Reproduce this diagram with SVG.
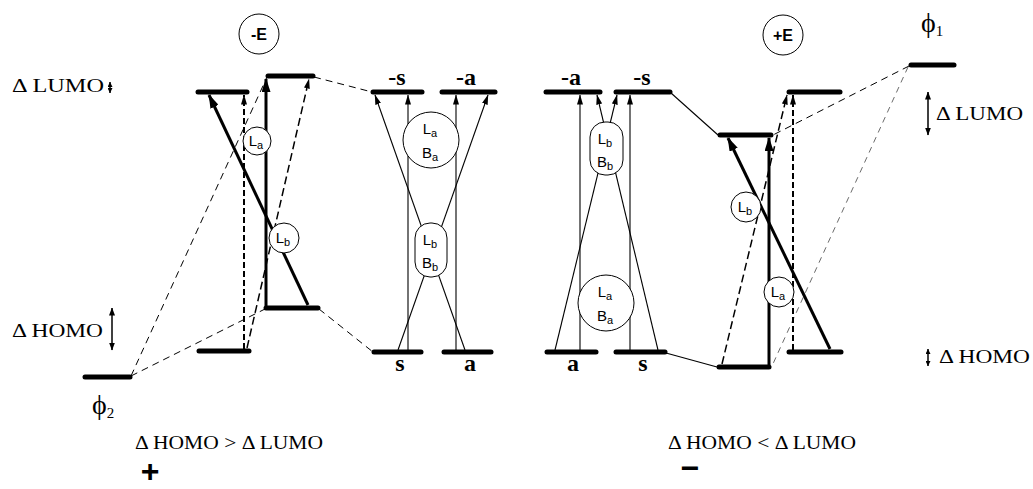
<svg xmlns="http://www.w3.org/2000/svg" width="1033" height="489" viewBox="0 0 1033 489">
<style>
.bar{stroke:#000;stroke-width:5;stroke-linecap:round}
.thick{stroke:#000;stroke-width:3;fill:none}
.thin{stroke:#000;stroke-width:1.1;fill:none}
.dash{stroke:#000;stroke-width:1;stroke-dasharray:7 5;fill:none}
.dashl{stroke:#444;stroke-width:0.8;stroke-dasharray:6 5;fill:none}
.dashm{stroke:#000;stroke-width:1.5;stroke-dasharray:8 4;fill:none}
.dashv{stroke:#000;stroke-width:2;stroke-dasharray:6 3;fill:none}
.lbl{font-family:"Liberation Serif","DejaVu Serif",serif;font-size:19px;fill:#000}
.phi{font-family:"Liberation Serif","DejaVu Serif",serif;font-size:28px;fill:#000}
.sym{font-family:"Liberation Serif",serif;font-weight:bold;font-size:24px;fill:#000;text-anchor:middle}
.cl{font-family:"Liberation Sans",sans-serif;font-size:15px;fill:#000;text-anchor:middle}
.circ{fill:#fff;stroke:#000;stroke-width:1}
.ef{font-family:"Liberation Sans",sans-serif;font-weight:bold;font-size:16px;fill:#000;text-anchor:middle}
</style>
<defs>
<marker id="ahT" markerUnits="userSpaceOnUse" markerWidth="14" markerHeight="9" viewBox="0 0 14 9" refX="13" refY="4.5" orient="auto"><path d="M0,0 L14,4.5 L0,9 z"/></marker>
<marker id="ah" markerUnits="userSpaceOnUse" markerWidth="10" markerHeight="6" viewBox="0 0 10 6" refX="9.5" refY="3" orient="auto"><path d="M0,0 L10,3 L0,6 z"/></marker>
<marker id="dbl" markerUnits="userSpaceOnUse" markerWidth="8" markerHeight="6" viewBox="0 0 8 6" refX="7.5" refY="3" orient="auto-start-reverse"><path d="M0,0 L8,3 L0,6 z"/></marker>
<marker id="dbs" markerUnits="userSpaceOnUse" markerWidth="5" markerHeight="5" viewBox="0 0 5 5" refX="5" refY="2.5" orient="auto-start-reverse"><path d="M0,0 L5,2.5 L0,5 z"/></marker>
</defs>

<g id="connectors">
  <line class="dash" x1="131" y1="376" x2="267" y2="77"/>
  <line class="dash" x1="131" y1="376" x2="265" y2="309"/>
  <line class="dash" x1="314" y1="77" x2="372" y2="92"/>
  <line class="dash" x1="319" y1="309" x2="373" y2="352"/>
  <line class="dashv" x1="244" y1="349" x2="244" y2="95" marker-end="url(#ah)"/>
  <line class="dashm" x1="247" y1="348" x2="309" y2="79" marker-end="url(#ah)"/>
  <line class="thick" x1="308" y1="305" x2="209" y2="95" marker-end="url(#ahT)"/>
  <line class="thick" x1="266" y1="306" x2="266" y2="79" marker-end="url(#ahT)"/>
  <line class="thin" x1="408" y1="350" x2="408" y2="95" marker-end="url(#ah)"/>
  <line class="thin" x1="456" y1="350" x2="456" y2="95" marker-end="url(#ah)"/>
  <line class="thin" x1="398" y1="350" x2="488" y2="95" marker-end="url(#ah)"/>
  <line class="thin" x1="465" y1="350" x2="375" y2="95" marker-end="url(#ah)"/>
  <line class="thin" x1="580" y1="350" x2="580" y2="95" marker-end="url(#ah)"/>
  <line class="thin" x1="630" y1="350" x2="630" y2="95" marker-end="url(#ah)"/>
  <line class="thin" x1="555" y1="350" x2="617" y2="95" marker-end="url(#ah)"/>
  <line class="thin" x1="658" y1="350" x2="597" y2="95" marker-end="url(#ah)"/>
  <line class="thin" x1="671" y1="93" x2="718" y2="135"/>
  <line class="thin" x1="666" y1="353" x2="717" y2="367"/>
  <line class="dash" x1="909" y1="66" x2="773" y2="135"/>
  <line class="dashl" x1="908" y1="67" x2="772" y2="366"/>
  <line class="dashm" x1="722" y1="364" x2="787" y2="95" marker-end="url(#ah)"/>
  <line class="dashv" x1="793" y1="350" x2="793" y2="95" marker-end="url(#ah)"/>
  <line class="thick" x1="830" y1="349" x2="728" y2="138" marker-end="url(#ahT)"/>
  <line class="thick" x1="769" y1="365" x2="769" y2="138" marker-end="url(#ahT)"/>
  <line stroke="#000" stroke-width="1.5" x1="110" y1="82" x2="110" y2="93" marker-start="url(#dbs)" marker-end="url(#dbs)"/>
  <line stroke="#000" stroke-width="1.5" x1="112" y1="308" x2="112" y2="350" marker-start="url(#dbl)" marker-end="url(#dbl)"/>
  <line stroke="#000" stroke-width="1.5" x1="928" y1="92" x2="928" y2="135" marker-start="url(#dbl)" marker-end="url(#dbl)"/>
  <line stroke="#000" stroke-width="1.5" x1="928" y1="349" x2="928" y2="366" marker-start="url(#dbs)" marker-end="url(#dbs)"/>
</g>

<g id="left-levels">
  <line id="lA" class="bar" x1="198" y1="92" x2="247" y2="92"/>
  <line id="lB" class="bar" x1="268" y1="76" x2="313" y2="76"/>
  <line id="lC" class="bar" x1="266" y1="308" x2="318" y2="308"/>
  <line id="lD" class="bar" x1="199" y1="351" x2="249" y2="351"/>
</g>
<g id="phi2"><line class="bar" x1="85" y1="377" x2="130" y2="377"/>
  <text class="phi" x="92" y="414">ϕ<tspan font-size="15" dy="4">2</tspan></text></g>
<g id="minusE"><circle class="circ" cx="259" cy="34" r="20"/><text class="ef" x="259" y="40">-E</text></g>
<g id="La-left"><circle class="circ" cx="257" cy="141" r="14"/><text class="cl" x="256" y="146">L<tspan font-size="11" dy="3">a</tspan></text></g>
<g id="Lb-left"><circle class="circ" cx="284" cy="238" r="15"/><text class="cl" x="283" y="243">L<tspan font-size="11" dy="3">b</tspan></text></g>

<g id="mid-left">
  <line class="bar" x1="373" y1="92" x2="422" y2="92"/><text class="sym" x="397" y="85">-s</text>
  <line class="bar" x1="442" y1="92" x2="495" y2="92"/><text class="sym" x="466" y="85">-a</text>
  <line class="bar" x1="374" y1="352" x2="421" y2="352"/><text class="sym" x="400" y="371">s</text>
  <line class="bar" x1="444" y1="352" x2="491" y2="352"/><text class="sym" x="470" y="371">a</text>
</g>
<g id="LaBa-left"><circle class="circ" cx="431" cy="140" r="28"/><text class="cl" x="430" y="134">L<tspan font-size="11" dy="3">a</tspan></text><text class="cl" x="430" y="158" font-size="17">B<tspan font-size="11" dy="3">a</tspan></text></g>
<g id="LbBb-left"><rect class="circ" x="415" y="223" width="32" height="54" rx="15"/><text class="cl" x="430" y="245">L<tspan font-size="11" dy="3">b</tspan></text><text class="cl" x="430" y="268" font-size="17">B<tspan font-size="11" dy="3">b</tspan></text></g>

<g id="mid-right">
  <line class="bar" x1="546" y1="92" x2="600" y2="92"/><text class="sym" x="571" y="85">-a</text>
  <line class="bar" x1="616" y1="92" x2="670" y2="92"/><text class="sym" x="642" y="85">-s</text>
  <line class="bar" x1="547" y1="352" x2="596" y2="352"/><text class="sym" x="573" y="371">a</text>
  <line class="bar" x1="616" y1="352" x2="665" y2="352"/><text class="sym" x="643" y="371">s</text>
</g>
<g id="LbBb-right"><rect class="circ" x="590" y="122" width="33" height="53" rx="15"/><text class="cl" x="605" y="144">L<tspan font-size="11" dy="3">b</tspan></text><text class="cl" x="605" y="167" font-size="17">B<tspan font-size="11" dy="3">b</tspan></text></g>
<g id="LaBa-right"><circle class="circ" cx="606" cy="303" r="28"/><text class="cl" x="605" y="297">L<tspan font-size="11" dy="3">a</tspan></text><text class="cl" x="605" y="321" font-size="17">B<tspan font-size="11" dy="3">a</tspan></text></g>

<g id="right-levels">
  <line id="rE" class="bar" x1="789" y1="92" x2="840" y2="92"/>
  <line id="rF" class="bar" x1="720" y1="135" x2="771" y2="135"/>
  <line id="rG" class="bar" x1="789" y1="352" x2="841" y2="352"/>
  <line id="rH" class="bar" x1="719" y1="367" x2="769" y2="367"/>
</g>
<g id="phi1"><line class="bar" x1="911" y1="65" x2="954" y2="65"/>
  <text class="phi" x="921" y="32">ϕ<tspan font-size="15" dy="4">1</tspan></text></g>
<g id="plusE"><circle class="circ" cx="783" cy="35" r="20"/><text class="ef" x="783" y="41">+E</text></g>
<g id="Lb-right"><circle class="circ" cx="746" cy="207" r="15"/><text class="cl" x="745" y="212">L<tspan font-size="11" dy="3">b</tspan></text></g>
<g id="La-right"><circle class="circ" cx="779" cy="292" r="15"/><text class="cl" x="778" y="297">L<tspan font-size="11" dy="3">a</tspan></text></g>

<g id="labels">
  <text class="lbl" x="12" y="92" textLength="92" lengthAdjust="spacingAndGlyphs">Δ LUMO</text>
  <text class="lbl" x="12" y="337" textLength="91" lengthAdjust="spacingAndGlyphs">Δ HOMO</text>
  <text class="lbl" x="936" y="120" textLength="87" lengthAdjust="spacingAndGlyphs">Δ LUMO</text>
  <text class="lbl" x="939" y="363" textLength="91" lengthAdjust="spacingAndGlyphs">Δ HOMO</text>
  <text class="lbl" x="135" y="449" textLength="188" lengthAdjust="spacingAndGlyphs">Δ HOMO &gt; Δ LUMO</text>
  <text class="lbl" x="668" y="449" textLength="188" lengthAdjust="spacingAndGlyphs">Δ HOMO &lt; Δ LUMO</text>
  <text x="150" y="482" font-family="Liberation Sans,sans-serif" font-weight="bold" font-size="32" text-anchor="middle">+</text>
  <text x="690" y="479" font-family="Liberation Sans,sans-serif" font-weight="bold" font-size="32" text-anchor="middle">−</text>
</g>
</svg>
